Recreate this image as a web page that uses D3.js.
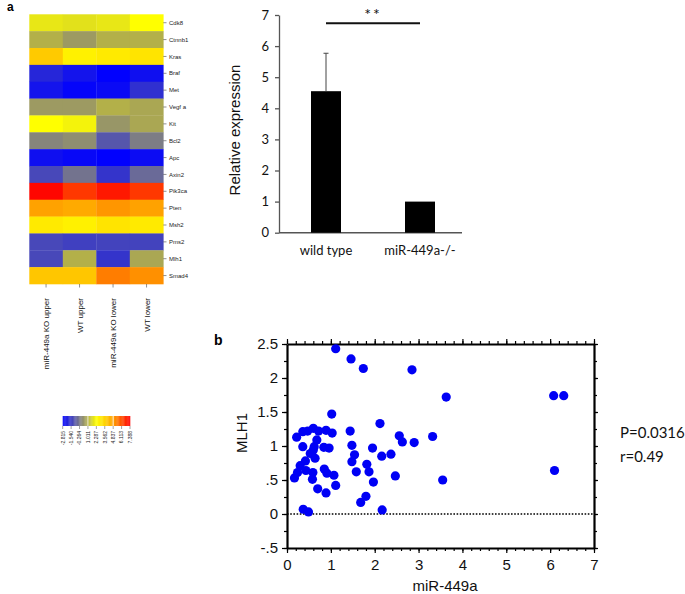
<!DOCTYPE html>
<html><head><meta charset="utf-8">
<script src="https://cdn.jsdelivr.net/npm/d3@7"></script>
<style>body{margin:0;background:#fff}</style></head>
<body><svg id="c" width="685" height="594"></svg>
<script>
// ---------- DATA ----------
const genes = ["Cdk8","Ctnnb1","Kras","Braf","Met","Vegf a","Kit","Bcl2","Apc","Axin2","Pik3ca","Pten","Msh2","Pms2","Mlh1","Smad4"];
const samples = ["miR-449a KO upper","WT upper","miR-449a KO lower","WT lower"];
const heatValues = [
  [1.9, 1.8, 1.9, 2.3],
  [1.0, 0.5, 1.0, 1.0],
  [3.8, 2.7, 2.9, 3.1],
  [-2.0, -2.4, -2.8, -2.5],
  [-2.4, -2.7, -2.6, -1.8],
  [0.5, 0.5, 1.0, 0.8],
  [2.3, 2.1, 0.4, 0.8],
  [0.0, 0.2, -1.0, -0.2],
  [-2.5, -2.65, -2.8, -2.55],
  [-1.3, -0.4, -1.7, -0.6],
  [7.3, 6.5, 7.0, 6.5],
  [4.8, 4.6, 5.0, 4.8],
  [2.9, 2.7, 3.1, 2.9],
  [-1.3, -1.45, -1.4, -1.4],
  [-1.3, 1.0, -1.7, 0.8],
  [3.9, 3.9, 5.4, 5.1]
];
const colorStops = [-2.815, -1.540, -0.264, 1.011, 2.287, 3.562, 4.837, 6.113, 7.388];
const colorStopColors = ["#0000ff","#3c3cc4","#7a7a88","#b4b048","#ffff00","#ffd400","#ffa000","#ff5000","#ff0000"];
const colorbarTicks = ["-2.815","-1.540","-0.264","1.011","2.287","3.562","4.837","6.113","7.388"];

const barCategories = ["wild type","miR-449a-/-"];
const barValues = [4.55, 1.0];
const barErrors = [1.22, 0];
const barTicks = [0,1,2,3,4,5,6,7];

const scatterX = [1.11,1.46,1.74,2.85,3.63,6.08,6.31,1.02,2.12,1.44,0.22,0.36,0.47,0.60,0.72,0.89,1.03,0.68,0.36,0.84,0.96,0.62,1.48,2.56,2.63,2.90,3.32,1.95,1.54,2.16,2.37,0.53,0.60,0.30,0.42,0.64,0.24,0.17,0.43,0.59,0.58,0.85,0.91,1.07,1.11,0.70,0.89,1.48,1.58,1.82,1.87,1.97,2.47,1.80,1.68,2.17,0.37,0.49,3.55,6.10];
const scatterY = [2.43,2.28,2.14,2.12,1.72,1.74,1.74,1.47,1.33,1.22,1.13,1.21,1.22,1.26,1.22,1.23,1.19,1.09,0.99,0.98,0.97,0.99,1.01,1.15,1.06,1.05,1.14,0.97,0.87,0.85,0.88,0.89,0.94,0.71,0.78,0.82,0.61,0.53,0.64,0.61,0.51,0.66,0.60,0.57,0.42,0.37,0.31,0.77,0.62,0.73,0.62,0.47,0.56,0.26,0.17,0.06,0.07,0.03,0.50,0.64];
const scatterYTicks = [2.5,2,1.5,1,0.5,0,-0.5];
const scatterXTicks = [0,1,2,3,4,5,6,7];
const statsText = ["P=0.0316","r=0.49"];

// ---------- DRAW ----------
const svg = d3.select("#c");
const sans = "Liberation Sans, Arial, sans-serif";
const cal = "Lato, Open Sans, sans-serif";

// Panel labels
svg.append("text").attr("x",7).attr("y",11).attr("font-family",sans).attr("font-weight","bold").attr("font-size",12).text("a");
svg.append("text").attr("x",214).attr("y",345).attr("font-family",sans).attr("font-weight","bold").attr("font-size",14).text("b");

// ---- Heatmap ----
const hx = d3.scaleBand().domain(samples).range([29.3,163.3]);
const hy = d3.scaleBand().domain(genes).range([14.3,284]);
const hcolor = d3.scaleLinear().domain(colorStops).range(colorStopColors).clamp(true);
const hg = svg.append("g");
genes.forEach((g,i)=>{
  samples.forEach((s,j)=>{
    hg.append("rect").attr("x",hx(s)).attr("y",hy(g)).attr("width",hx.bandwidth()+0.3).attr("height",hy.bandwidth()+0.3)
      .attr("fill",hcolor(heatValues[i][j]));
  });
  const yc = hy(g)+hy.bandwidth()/2;
  hg.append("line").attr("x1",163.3).attr("x2",166.5).attr("y1",yc).attr("y2",yc).attr("stroke","#444").attr("stroke-width",0.6);
  hg.append("text").attr("x",169).attr("y",yc).attr("dy","0.35em").attr("font-family",sans).attr("font-size",6).attr("fill","#222").text(g);
});
samples.forEach(s=>{
  const xc = hx(s)+hx.bandwidth()/2;
  hg.append("line").attr("x1",xc).attr("x2",xc).attr("y1",284).attr("y2",287.5).attr("stroke","#444").attr("stroke-width",0.6);
  hg.append("text").attr("transform",`translate(${xc+3},298) rotate(-90)`).attr("text-anchor","end")
    .attr("font-family",sans).attr("font-size",8).attr("fill","#111").text(s);
});

// Colorbar
const cbx = d3.scaleLinear().domain([colorStops[0], colorStops[colorStops.length-1]]).range([62.7,130]);
const cbN = 80;
for(let k=0;k<cbN;k++){
  const v0 = colorStops[0] + (colorStops[8]-colorStops[0])*k/cbN;
  const v1 = colorStops[0] + (colorStops[8]-colorStops[0])*(k+1)/cbN;
  hg.append("rect").attr("x",cbx(v0)).attr("y",416).attr("width",cbx(v1)-cbx(v0)+0.3).attr("height",10).attr("fill",hcolor((v0+v1)/2));
}
[colorStops[3], colorStops[6]].forEach(v=>{
  hg.append("line").attr("x1",cbx(v)).attr("x2",cbx(v)).attr("y1",416).attr("y2",426).attr("stroke","#fff").attr("stroke-width",0.8);
});
colorbarTicks.forEach((t,i)=>{
  const x = cbx(colorStops[i]);
  hg.append("line").attr("x1",x).attr("x2",x).attr("y1",426).attr("y2",429).attr("stroke","#444").attr("stroke-width",0.5);
  hg.append("text").attr("transform",`translate(${x+1.8},431) rotate(-90)`).attr("text-anchor","end")
    .attr("font-family",sans).attr("font-size",5).attr("fill","#222").text(t);
});

// ---- Bar chart ----
const bx = d3.scalePoint().domain(barCategories).range([279,467]).padding(0.5);
const by = d3.scaleLinear().domain([0,7]).range([232.7,15]);
const bg = svg.append("g");
const yAxB = bg.append("g").attr("transform","translate(279,0)")
  .call(d3.axisLeft(by).tickValues(barTicks).tickSize(4).tickSizeOuter(0).tickFormat(d3.format("d")));
yAxB.selectAll("path,line").attr("stroke","#555").attr("stroke-width",1.3);
yAxB.selectAll("text").attr("font-family",cal).attr("font-size",13).attr("fill","#111").attr("dx",-3);
bg.append("line").attr("x1",279).attr("x2",462).attr("y1",by(0)).attr("y2",by(0)).attr("stroke","#555").attr("stroke-width",1.5);
barCategories.forEach((c,i)=>{
  const xc = bx(c);
  bg.append("rect").attr("x",xc-15).attr("y",by(barValues[i])).attr("width",30).attr("height",by(0)-by(barValues[i])).attr("fill","#000");
  if(barErrors[i]>0){
    const top = by(barValues[i]+barErrors[i]);
    bg.append("line").attr("x1",xc).attr("x2",xc).attr("y1",by(barValues[i])).attr("y2",top).attr("stroke","#444").attr("stroke-width",1);
    bg.append("line").attr("x1",xc-2.5).attr("x2",xc+2.5).attr("y1",top).attr("y2",top).attr("stroke","#444").attr("stroke-width",1);
  }
  bg.append("text").attr("x",xc).attr("y",255).attr("text-anchor","middle").attr("font-family",cal).attr("font-size",13).attr("fill","#111").text(c);
});
bg.append("line").attr("x1",bx(barCategories[0])).attr("x2",bx(barCategories[1])).attr("y1",23.3).attr("y2",23.3).attr("stroke","#111").attr("stroke-width",2);
bg.append("text").attr("x",(bx(barCategories[0])+bx(barCategories[1]))/2).attr("y",20).attr("text-anchor","middle").attr("font-family",cal).attr("font-size",16).attr("letter-spacing",2).attr("fill","#111").text("**");
bg.append("text").attr("transform","translate(240,130) rotate(-90)").attr("text-anchor","middle")
  .attr("font-family",sans).attr("font-size",15).attr("fill","#111").text("Relative expression");

// ---- Scatter ----
const sx = d3.scaleLinear().domain([0,7]).range([287,594]);
const sy = d3.scaleLinear().domain([-0.5,2.5]).range([548,344]);
const sg = svg.append("g");
const fmtY = d => d===0.5?".5":(d===-0.5?"-.5":String(d));
const minorX = d3.range(0,7.0001,0.2);
const minorY = d3.range(-0.5,2.5001,0.25);
// minor ticks
sg.append("g").attr("transform",`translate(0,${sy(-0.5)})`).call(d3.axisBottom(sx).tickValues(minorX).tickSize(3).tickFormat("")).call(g=>g.select(".domain").remove());
sg.append("g").attr("transform",`translate(0,${sy(2.5)})`).call(d3.axisTop(sx).tickValues(minorX).tickSize(3).tickFormat("")).call(g=>g.select(".domain").remove());
sg.append("g").attr("transform",`translate(${sx(0)},0)`).call(d3.axisLeft(sy).tickValues(minorY).tickSize(3).tickFormat("")).call(g=>g.select(".domain").remove());
sg.append("g").attr("transform",`translate(${sx(7)},0)`).call(d3.axisRight(sy).tickValues(minorY).tickSize(3).tickFormat("")).call(g=>g.select(".domain").remove());
// major
const xAx = sg.append("g").attr("transform",`translate(0,${sy(-0.5)})`).call(d3.axisBottom(sx).tickValues(scatterXTicks).tickSize(5).tickSizeOuter(0).tickFormat(d3.format("d")));
const tAx = sg.append("g").attr("transform",`translate(0,${sy(2.5)})`).call(d3.axisTop(sx).tickValues(scatterXTicks).tickSize(5).tickSizeOuter(0).tickFormat(""));
const yAx = sg.append("g").attr("transform",`translate(${sx(0)},0)`).call(d3.axisLeft(sy).tickValues(scatterYTicks).tickSize(5).tickSizeOuter(0).tickFormat(fmtY));
const rAx = sg.append("g").attr("transform",`translate(${sx(7)},0)`).call(d3.axisRight(sy).tickValues(scatterYTicks).tickSize(4).tickSizeOuter(0).tickFormat(""));
sg.selectAll("path,line").attr("stroke","#000").attr("stroke-width",1.2);
[xAx,tAx,yAx,rAx].forEach(a=>a.select(".domain").attr("stroke-width",2.2));
xAx.selectAll("text").attr("font-family",sans).attr("font-size",15).attr("fill","#111").attr("dy","0.95em");
yAx.selectAll("text").attr("font-family",sans).attr("font-size",15).attr("fill","#111").attr("dx",-1);
sg.append("line").attr("x1",sx(0)).attr("x2",sx(7)).attr("y1",sy(0)).attr("y2",sy(0)).attr("stroke","#000").attr("stroke-width",1.6).attr("stroke-dasharray","1.6,1.6");
sg.selectAll("circle.pt").data(scatterX.map((x,i)=>[x,scatterY[i]])).join("circle").attr("class","pt")
  .attr("cx",d=>sx(d[0])).attr("cy",d=>sy(d[1])).attr("r",4.6).attr("fill","#0000f5");
sg.append("text").attr("transform","translate(247,433) rotate(-90)").attr("text-anchor","middle")
  .attr("font-family",sans).attr("font-size",15).attr("fill","#111").text("MLH1");
sg.append("text").attr("x",445).attr("y",591).attr("text-anchor","middle").attr("font-family",sans).attr("font-size",15).attr("fill","#111").text("miR-449a");
statsText.forEach((t,i)=>{
  sg.append("text").attr("x",620).attr("y",438+i*24).attr("font-family",cal).attr("font-size",15).attr("fill","#111").text(t);
});
</script></body></html>
